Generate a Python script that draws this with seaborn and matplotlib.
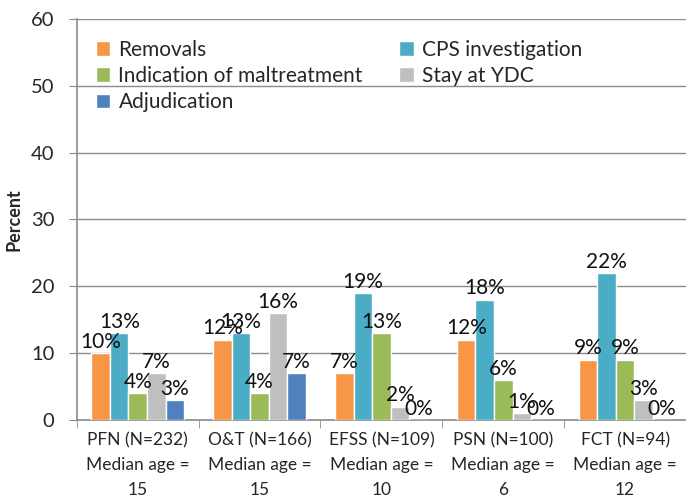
import pandas as pd
import matplotlib.pyplot as plt
import seaborn as sns

groups = ["PFN (N=232)\nMedian age =\n15", "O&T (N=166)\nMedian age =\n15",
          "EFSS (N=109)\nMedian age =\n10", "PSN (N=100)\nMedian age =\n6",
          "FCT (N=94)\nMedian age =\n12"]
series = ["Removals", "CPS investigation", "Indication of maltreatment",
          "Stay at YDC", "Adjudication"]
removals = [10, 12, 7, 12, 9]
cps = [13, 13, 19, 18, 22]
maltreatment = [4, 4, 13, 6, 9]
ydc = [7, 16, 2, 1, 3]
adjudication = [3, 7, 0, 0, 0]
colors = ["#F79646", "#4BACC6", "#9BBB59", "#BFBFBF", "#4F81BD"]

rows = []
for name, vals in zip(series, [removals, cps, maltreatment, ydc, adjudication]):
    for g, v in zip(groups, vals):
        rows.append({"Group": g, "Measure": name, "Percent": v})
df = pd.DataFrame(rows)

sns.set_style("white")
plt.rcParams["font.family"] = ["Lato", "DejaVu Sans"]

fig = plt.figure(figsize=(6.86, 5.0), dpi=100)
ax = fig.add_axes([0.112, 0.16, 0.888, 0.802])
sns.barplot(data=df, x="Group", y="Percent", hue="Measure", order=groups,
            hue_order=series, palette=colors, width=0.76, saturation=1,
            ax=ax, zorder=3)

for cont in ax.containers:
    ax.bar_label(cont, labels=[f"{int(b.get_height())}%" for b in cont],
                 fontsize=15, padding=1, color="#111111")

ax.set_ylim(0, 60)
ax.set_yticks(range(0, 61, 10))
ax.set_xlim(-0.5, 4.5)
ax.set_ylabel("Percent", fontsize=13, fontweight="bold", labelpad=6)
ax.set_xlabel("")
ax.grid(axis="y", color="#8C8C8C", linewidth=1, zorder=0)
ax.tick_params(axis="y", labelsize=14.5, length=6, color="#8C8C8C", left=True, pad=10)
ax.tick_params(axis="x", labelsize=12.5, length=0, pad=9)
ax.set_xticks(range(5))
ax.set_xticklabels(groups, linespacing=1.65)
ax.set_xticks([i - 0.5 for i in range(6)], minor=True)
ax.tick_params(axis="x", which="minor", length=6, color="#8C8C8C", bottom=True)
for s in ["top", "right"]:
    ax.spines[s].set_visible(False)
for s in ["left", "bottom"]:
    ax.spines[s].set_color("#8C8C8C")
    ax.spines[s].set_linewidth(1.2)

# legend fills rows in the reference, matplotlib fills columns
handles, labels = ax.get_legend_handles_labels()
idx = [0, 2, 4, 1, 3]
ax.legend([handles[i] for i in idx], [labels[i] for i in idx], ncol=2,
          loc="upper left", bbox_to_anchor=(0.0, 0.995), frameon=False,
          fontsize=15, handlelength=0.7, handleheight=0.7, handletextpad=0.4,
          columnspacing=1.75, labelspacing=0.3)

fig.savefig("out.png", dpi=100)
